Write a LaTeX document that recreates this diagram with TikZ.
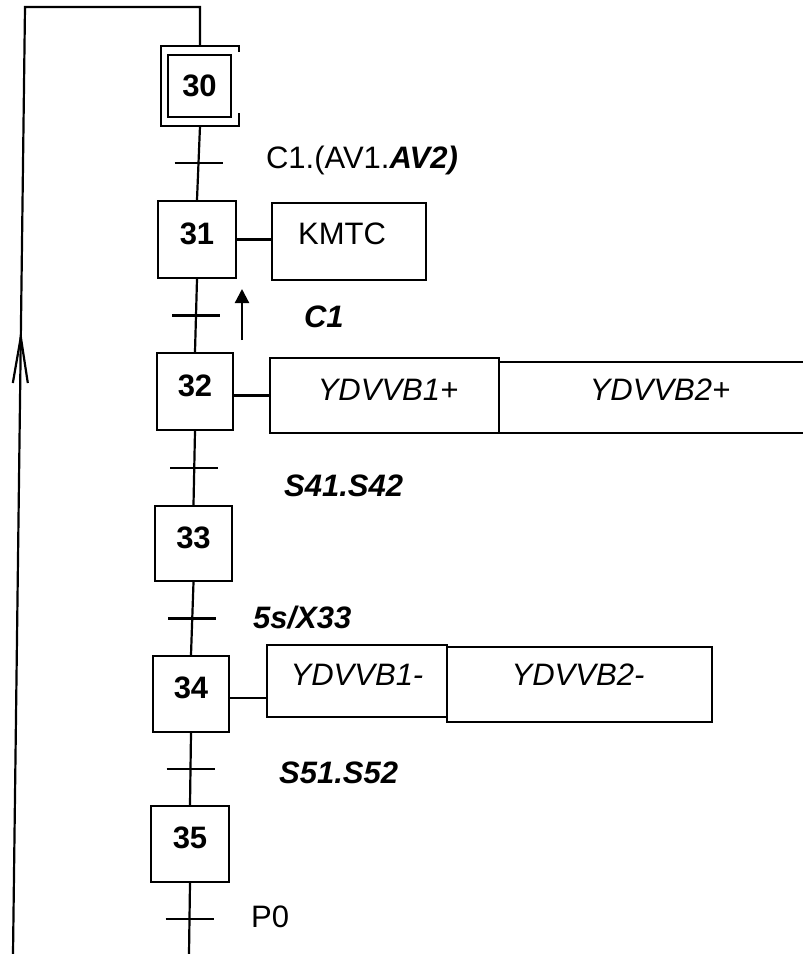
\documentclass[tikz,border=0pt]{standalone}
\usepackage{fontspec}
\setmainfont{Liberation Sans}
\usetikzlibrary{arrows.meta,calc}
\begin{document}
\begin{tikzpicture}[x=1pt,y=-1pt,line width=2.2pt,
  every node/.style={font=\fontsize{31}{37}\selectfont, inner sep=0pt},
  stepbox/.style={draw, line width=2.4pt, minimum width=77pt, minimum height=77pt,
     font=\fontsize{31}{37}\selectfont\bfseries, text depth=12pt},
  actbox/.style={draw, line width=2.4pt},
  trans/.style={line width=2.2pt},
  lbl/.style={anchor=base west},
  ctr/.style={anchor=base},
  bi/.style={font=\fontsize{31}{37}\selectfont\bfseries\itshape},
  it/.style={font=\fontsize{31}{37}\selectfont\itshape}]
\clip (0,0) rectangle (803,954);

% steps
\node[stepbox, minimum width=63pt, minimum height=62pt, text depth=0pt] (s30) at (199.5,86) {30};
\node[minimum width=76pt, minimum height=78pt] (s30o) at (200,86) {};
\node[stepbox, minimum width=78pt] (s31) at (197,239.5) {31};
\node[stepbox, minimum width=76pt] (s32) at (195,391.5) {32};
\node[stepbox, minimum height=75pt] (s33) at (193.5,543.5) {33};
\node[stepbox, minimum width=76pt, minimum height=76pt] (s34) at (191,694) {34};
\node[stepbox, minimum width=78pt, minimum height=76pt] (s35) at (190,844) {35};

% initial step outer frame
\draw[line width=2.4pt] ([yshift=-6pt]s30o.north east) -- (s30o.north east) -- (s30o.north west)
  -- (s30o.south west) -- (s30o.south east) -- ([yshift=13pt]s30o.south east);

% action boxes
\node[actbox, minimum width=154pt, minimum height=77pt] (a31) at (349,241.5) {};
\node[lbl] (k31) at (297,244) {KMTC};
\node[actbox, minimum width=229pt, minimum height=75pt] (a32a) at (384.5,395.5) {};
\node[actbox, minimum width=320pt, minimum height=71pt] (a32b) at (659,397.5) {};
\node[ctr,it] (k32a) at (388,400) {YDVVB1+};
\node[ctr,it] (k32b) at (660,400) {YDVVB2+};
\node[actbox, minimum width=180pt, minimum height=72pt] (a34a) at (357,681) {};
\node[actbox, minimum width=265pt, minimum height=75pt] (a34b) at (579.5,684.5) {};
\node[ctr,it] (k34a) at (357,685) {YDVVB1-};
\node[ctr,it] (k34b) at (578,685) {YDVVB2-};

% links step -> action
\draw (s31.east) -- (s31.east -| a31.west);
\draw ([yshift=-4pt]s32.east) -- ([yshift=-4pt]s32.east -| a32a.west);
\draw ([yshift=-4pt]s34.east) -- ([yshift=-4pt]s34.east -| a34a.west);

% spine
\coordinate (end35) at (189,954);
\draw (s30o.south) -- (s31.north);
\draw (s31.south) -- (s32.north);
\draw (s32.south) -- (s33.north);
\draw (s33.south) -- (s34.north);
\draw (s34.south) -- (s35.north);
\draw (s35.south) -- (end35);

% transitions
\coordinate (t30) at ($(s30o.south)!0.5!(s31.north)$);
\coordinate (t31) at ($(s31.south)!0.5!(s32.north)$);
\coordinate (t32) at ($(s32.south)!0.5!(s33.north)$);
\coordinate (t33) at ($(s33.south)!0.5!(s34.north)$);
\coordinate (t34) at ($(s34.south)!0.5!(s35.north)$);
\coordinate (t35) at ($(s35.south)!0.5!(end35)$);
\foreach \t in {t30,t31,t32,t33,t34,t35}
  \draw[trans] ([xshift=-24pt]\t) -- ([xshift=24pt]\t);

% loop back
\coordinate (tl) at (25,7);
\coordinate (bl) at (13,954);
\draw (bl) -- (tl) -- (tl -| s30o.north) -- (s30o.north);
\coordinate (ltip) at ($(tl)!0.3485!(bl)$);
\draw (ltip) -- ++(-8,46);
\draw (ltip) -- ++(7,46);

% small arrow
\coordinate (ca) at (242,340);
\coordinate (cb) at (242,289);
\draw[-{Triangle[length=14pt,width=14pt]}] (ca) -- (cb);

% receptivities
\node[lbl] (r30) at (265,168) {C1.(AV1.\textbf{\textit{AV2)}}};
\node[lbl,bi] (r31) at (303,327) {C1};
\node[lbl,bi] (r32) at (283,496) {S41.S42};
\node[lbl,bi] (r33) at (252,628) {5s/X33};
\node[lbl,bi] (r34) at (278,783) {S51.S52};
\node[lbl] (r35) at (250,927) {P0};
\end{tikzpicture}
\end{document}
